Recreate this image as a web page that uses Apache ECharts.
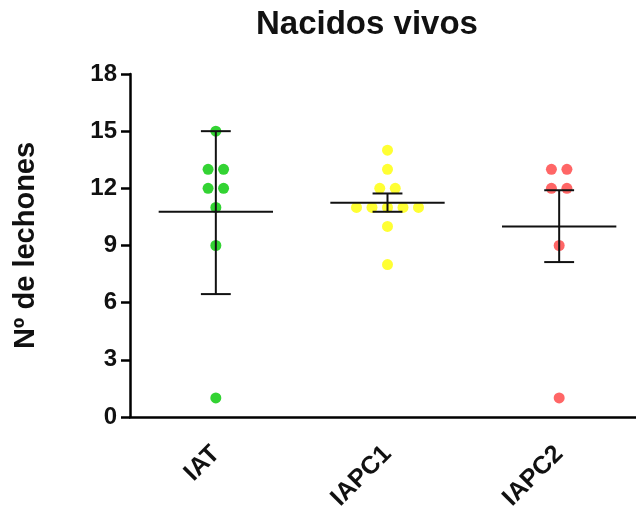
<!DOCTYPE html>
<html>
<head>
<meta charset="utf-8">
<script src="https://cdn.jsdelivr.net/npm/echarts@6/dist/echarts.min.js"></script>
<style>html,body{margin:0;padding:0;background:#fff}#c{width:636px;height:516px}</style>
</head>
<body>
<div id="c"></div>
<script>
var categories = ['IAT', 'IAPC1', 'IAPC2'];
var yTicks = [0, 3, 6, 9, 12, 15, 18];
var iatValues = [15, 13, 13, 12, 12, 11, 9, 1];
var iapc1Values = [14, 13, 12, 12, 11, 11, 11, 11, 11, 10, 8];
var iapc2Values = [13, 13, 12, 12, 9, 1];
var groupValues = [iatValues, iapc1Values, iapc2Values];
var groupColors = ['#00c800', '#ffff00', '#ff4040'];
var means = [10.77, 11.25, 10.0];
var errLow = [6.45, 10.77, 8.13];
var errHigh = [15.0, 11.73, 11.9];

var FONT = '"Liberation Sans", Arial, sans-serif';
var JITTER = 15.5;

function buildPoints(ci) {
  var vals = groupValues[ci];
  var counts = {};
  vals.forEach(function (v) { counts[v] = (counts[v] || 0) + 1; });
  var seen = {};
  return vals.map(function (v) {
    var n = counts[v];
    var k = seen[v] || 0;
    seen[v] = k + 1;
    var off = (k - (n - 1) / 2) * JITTER;
    return { value: [ci, v], symbolOffset: [off, 0] };
  });
}

var series = [];
categories.forEach(function (c, ci) {
  series.push({
    type: 'scatter',
    name: c,
    symbol: 'circle',
    symbolSize: 11,
    itemStyle: { color: groupColors[ci] },
    data: buildPoints(ci),
    z: 2
  });
});

var statData = categories.map(function (c, i) { return [i, means[i], errLow[i], errHigh[i]]; });
series.push({
  type: 'custom',
  data: statData,
  z: 5,
  renderItem: function (params, api) {
    var i = api.value(0);
    var band = api.size([1, 0])[0];
    var pm = api.coord([i, api.value(1)]);
    var pl = api.coord([i, api.value(2)]);
    var ph = api.coord([i, api.value(3)]);
    var hw = band * 0.333;
    var cw = band * 0.087;
    var st = { stroke: '#111', lineWidth: 2 };
    return {
      type: 'group',
      children: [
        { type: 'line', shape: { x1: pm[0] - hw, y1: pm[1], x2: pm[0] + hw, y2: pm[1] }, style: st },
        { type: 'line', shape: { x1: pl[0], y1: pl[1], x2: ph[0], y2: ph[1] }, style: st },
        { type: 'line', shape: { x1: pl[0] - cw, y1: pl[1], x2: pl[0] + cw, y2: pl[1] }, style: st },
        { type: 'line', shape: { x1: ph[0] - cw, y1: ph[1], x2: ph[0] + cw, y2: ph[1] }, style: st }
      ]
    };
  }
});

var chart = echarts.init(document.getElementById('c'), null, { renderer: 'canvas' });
chart.setOption({
  backgroundColor: '#fff',
  animation: false,
  title: {
    text: 'Nacidos vivos',
    left: 251,
    top: 3,
    textStyle: { fontFamily: FONT, fontWeight: 'bold', fontSize: 33, color: '#111' }
  },
  grid: { left: 130, right: -9, top: 74, bottom: 99, containLabel: false, outerBoundsMode: 'none' },
  xAxis: {
    type: 'category',
    data: categories,
    boundaryGap: true,
    axisLine: { lineStyle: { color: '#000', width: 2.5 } },
    axisTick: { alignWithLabel: true, length: 10, lineStyle: { color: '#000', width: 2.5 } },
    axisLabel: { rotate: 45, margin: 33, fontFamily: FONT, fontWeight: 'bold', fontSize: 25, color: '#111' },
    splitLine: { show: false }
  },
  yAxis: {
    type: 'value',
    min: yTicks[0],
    max: yTicks[yTicks.length - 1],
    interval: 3,
    name: 'Nº de lechones',
    nameLocation: 'middle',
    nameRotate: 90,
    nameGap: 90,
    nameTextStyle: { fontFamily: FONT, fontWeight: 'bold', fontSize: 29, color: '#111' },
    axisLine: { show: true, lineStyle: { color: '#000', width: 2.5 } },
    axisTick: { show: true, length: 9, lineStyle: { color: '#000', width: 2.5 } },
    axisLabel: { margin: 13, fontFamily: FONT, fontWeight: 'bold', fontSize: 24, color: '#111' },
    splitLine: { show: false }
  },
  series: series
});
</script>
</body>
</html>
